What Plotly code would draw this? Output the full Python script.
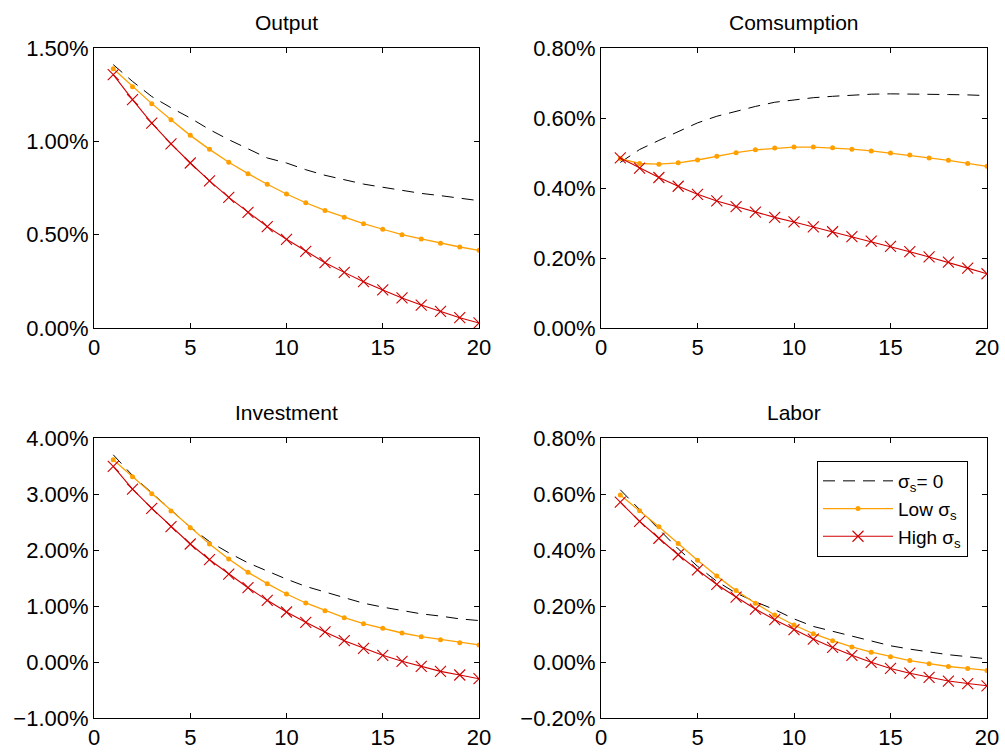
import plotly.graph_objects as go

periods = list(range(1, 21))

# Impulse responses, in percent deviation from steady state
output_zero = [1.411, 1.321, 1.24, 1.18, 1.125, 1.063, 1.009, 0.959, 0.911, 0.884,
               0.848, 0.818, 0.795, 0.771, 0.754, 0.736, 0.721, 0.709, 0.695, 0.682]
output_low = [1.389, 1.293, 1.202, 1.116, 1.032, 0.957, 0.888, 0.827, 0.770, 0.718,
              0.671, 0.630, 0.593, 0.559, 0.529, 0.500, 0.477, 0.454, 0.434, 0.416]
output_high = [1.357, 1.223, 1.098, 0.986, 0.884, 0.788, 0.700, 0.620, 0.543, 0.475,
               0.411, 0.350, 0.298, 0.248, 0.204, 0.161, 0.123, 0.089, 0.055, 0.027]

cons_zero = [0.473, 0.510, 0.536, 0.562, 0.586, 0.605, 0.620, 0.633, 0.645, 0.652,
             0.658, 0.662, 0.666, 0.668, 0.669, 0.669, 0.668, 0.667, 0.666, 0.664]
cons_low = [0.484, 0.470, 0.468, 0.472, 0.480, 0.491, 0.501, 0.509, 0.514, 0.517,
            0.517, 0.515, 0.511, 0.506, 0.500, 0.494, 0.486, 0.479, 0.470, 0.462]
cons_high = [0.486, 0.457, 0.430, 0.405, 0.382, 0.363, 0.347, 0.331, 0.316, 0.303,
             0.289, 0.275, 0.261, 0.248, 0.233, 0.218, 0.203, 0.188, 0.171, 0.155]

inv_zero = [3.70, 3.33, 3.02, 2.71, 2.41, 2.15, 1.95, 1.77, 1.62, 1.48,
            1.35, 1.25, 1.14, 1.05, 0.98, 0.92, 0.86, 0.82, 0.77, 0.74]
inv_low = [3.613, 3.310, 3.006, 2.696, 2.399, 2.107, 1.839, 1.601, 1.399, 1.214,
           1.054, 0.917, 0.792, 0.685, 0.601, 0.518, 0.452, 0.399, 0.345, 0.304]
inv_high = [3.494, 3.089, 2.744, 2.417, 2.107, 1.827, 1.571, 1.327, 1.101, 0.893,
            0.708, 0.536, 0.381, 0.244, 0.119, 0.012, -0.077, -0.167, -0.232, -0.298]

labor_zero = [0.615, 0.544, 0.473, 0.404, 0.342, 0.288, 0.246, 0.215, 0.187, 0.154,
              0.127, 0.110, 0.092, 0.074, 0.058, 0.046, 0.036, 0.026, 0.019, 0.011]
labor_low = [0.596, 0.540, 0.483, 0.423, 0.363, 0.307, 0.255, 0.210, 0.168, 0.132,
             0.101, 0.076, 0.054, 0.035, 0.019, 0.005, -0.006, -0.016, -0.023, -0.030]
labor_high = [0.571, 0.502, 0.442, 0.383, 0.329, 0.277, 0.232, 0.189, 0.151, 0.116,
              0.082, 0.052, 0.024, -0.001, -0.023, -0.040, -0.055, -0.068, -0.077, -0.085]

panel_titles = ["Output", "Comsumption", "Investment", "Labor"]
series_names = ["σ<sub>s</sub>= 0", "Low σ<sub>s</sub>", "High σ<sub>s</sub>"]
panel_data = [
    (output_zero, output_low, output_high),
    (cons_zero, cons_low, cons_high),
    (inv_zero, inv_low, inv_high),
    (labor_zero, labor_low, labor_high),
]
y_ranges = [(0, 1.5), (0, 0.8), (-1, 4), (-0.2, 0.8)]
y_dticks = [0.5, 0.2, 1.0, 0.2]

FONT = "Liberation Sans, Arial, Helvetica, sans-serif"
W, H = 1005, 755
# panel boxes in pixels: (left, right, top, bottom)
boxes = [(94, 479, 48, 328), (601, 987, 48, 328),
         (94, 479, 438, 718), (601, 987, 438, 718)]

BLACK = "#000000"
ORANGE = "#FFA000"
RED = "#D00000"

fig = go.Figure()
layout = dict(
    width=W, height=H,
    margin=dict(l=0, r=0, t=0, b=0),
    paper_bgcolor="white", plot_bgcolor="white",
    font=dict(family=FONT, size=21, color="black"),
    annotations=[],
)

for i, (title, data) in enumerate(zip(panel_titles, panel_data)):
    xa = "x" if i == 0 else f"x{i + 1}"
    ya = "y" if i == 0 else f"y{i + 1}"
    zero, low, high = data
    show = i == 3
    fig.add_trace(go.Scatter(
        x=periods, y=zero, xaxis=xa, yaxis=ya, mode="lines",
        name=series_names[0], showlegend=show, legendrank=1,
        line=dict(color=BLACK, width=1, dash="12px,8px"),
    ))
    fig.add_trace(go.Scatter(
        x=periods, y=low, xaxis=xa, yaxis=ya, mode="lines+markers",
        name=series_names[1], showlegend=show, legendrank=2,
        line=dict(color=ORANGE, width=1.3),
        marker=dict(symbol="circle", size=5, color=ORANGE),
    ))
    fig.add_trace(go.Scatter(
        x=periods, y=high, xaxis=xa, yaxis=ya, mode="lines+markers",
        name=series_names[2], showlegend=show, legendrank=3,
        line=dict(color=RED, width=1.1),
        marker=dict(symbol="x-thin", size=11, line=dict(color=RED, width=1.1)),
    ))

    l, r, t, b = boxes[i]
    xdom = [l / W, r / W]
    ydom = [(H - b) / H, (H - t) / H]
    axis_common = dict(
        showgrid=False, zeroline=False, showline=True, linecolor="black",
        linewidth=1, mirror="ticks", ticks="inside", ticklen=5,
        tickcolor="black", tickwidth=1, automargin=False,
        tickfont=dict(family=FONT, size=22, color="black"),
    )
    layout["xaxis" if i == 0 else f"xaxis{i + 1}"] = dict(
        axis_common, domain=xdom, range=[0, 20], tickmode="linear",
        tick0=0, dtick=5, anchor=ya,
    )
    lo, hi = y_ranges[i]
    layout["yaxis" if i == 0 else f"yaxis{i + 1}"] = dict(
        axis_common, domain=ydom, range=[lo, hi], tickmode="linear",
        tick0=lo, dtick=y_dticks[i], tickformat=".2f", ticksuffix="%",
        anchor=xa,
    )
    layout["annotations"].append(dict(
        text=title, xref="paper", yref="paper",
        x=(l + r) / 2 / W, y=(H - t + 12) / H, xanchor="center",
        yanchor="bottom", showarrow=False,
        font=dict(family=FONT, size=21, color="black"),
    ))

layout["legend"] = dict(
    x=817 / W, y=(H - 461) / H, xanchor="left", yanchor="top",
    bgcolor="white", bordercolor="black", borderwidth=1,
    font=dict(family=FONT, size=19, color="black"),
    itemwidth=70, tracegroupgap=0,
)

fig.update_layout(**layout)
fig.write_html("out.html")
